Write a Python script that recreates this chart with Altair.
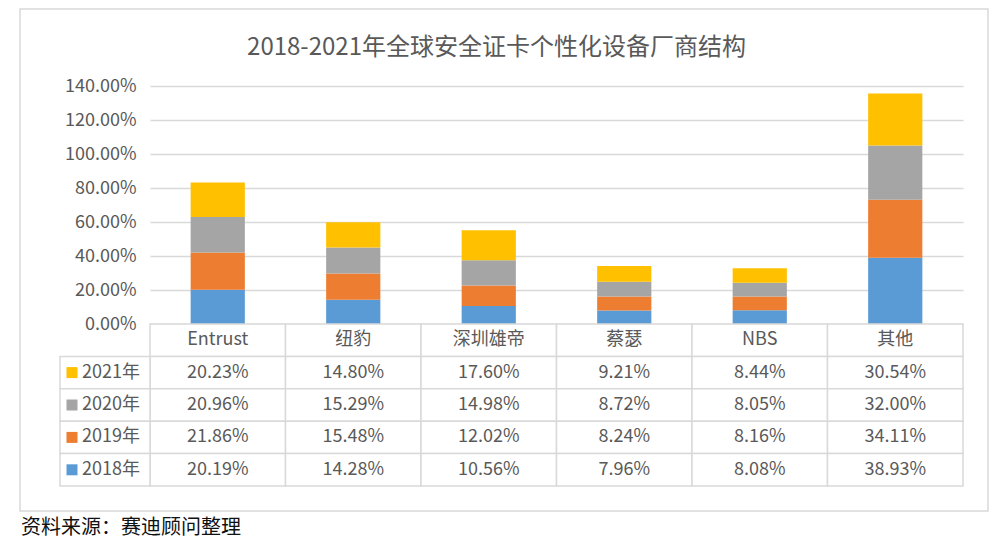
import altair as alt
import pandas as pd

FONT = "Noto Sans CJK SC"
TEXT_COLOR = "#595959"
LINE_COLOR = "#d9d9d9"

title_text = "2018-2021年全球安全证卡个性化设备厂商结构"
source_note = "资料来源：赛迪顾问整理"

companies = ["Entrust", "纽豹", "深圳雄帝", "蔡瑟", "NBS", "其他"]
years = ["2018年", "2019年", "2020年", "2021年"]
year_colors = ["#5b9bd5", "#ed7d31", "#a5a5a5", "#ffc000"]

v2018 = [20.19, 14.28, 10.56, 7.96, 8.08, 38.93]
v2019 = [21.86, 15.48, 12.02, 8.24, 8.16, 34.11]
v2020 = [20.96, 15.29, 14.98, 8.72, 8.05, 32.00]
v2021 = [20.23, 14.80, 17.60, 9.21, 8.44, 30.54]

tick_values = [0, 0.2, 0.4, 0.6, 0.8, 1.0, 1.2, 1.4]

series = {"2018年": v2018, "2019年": v2019, "2020年": v2020, "2021年": v2021}

bar_rows = []
for yi, y in enumerate(years):
    for c, v in zip(companies, series[y]):
        bar_rows.append({"company": c, "year": y, "yi": yi, "value": v / 100})
bar_df = pd.DataFrame(bar_rows)

table_rows = ["header", "2021年", "2020年", "2019年", "2018年"]
cell_rows = []
for c in companies:
    cell_rows.append({"company": c, "row": "header", "label": c})
for y in table_rows[1:]:
    for c, v in zip(companies, series[y]):
        cell_rows.append({"company": c, "row": y, "label": f"{v:.2f}%"})
cell_df = pd.DataFrame(cell_rows)

leg_df = pd.DataFrame({"row": table_rows[1:], "year": table_rows[1:]})
note_df = pd.DataFrame({"note": [source_note]})

color_scale = alt.Scale(domain=years, range=year_colors)

bars = alt.Chart(bar_df).mark_bar().encode(
    x=alt.X("company:N", sort=companies,
            scale=alt.Scale(domain=companies, paddingInner=0.6, paddingOuter=0.3),
            axis=None),
    y=alt.Y("value:Q", stack="zero",
            scale=alt.Scale(domain=[0, 1.4], nice=False),
            axis=alt.Axis(values=tick_values, format=".2%", title=None,
                          domain=False, ticks=False, labelPadding=14,
                          labelFontSize=18, labelColor=TEXT_COLOR, labelFont=FONT,
                          gridColor=LINE_COLOR, gridWidth=1.5)),
    color=alt.Color("year:N", scale=color_scale, legend=None),
    order=alt.Order("yi:Q", sort="ascending"),
).properties(
    width=813, height=238,
    title=alt.TitleParams(text=title_text, fontSize=24, color=TEXT_COLOR, font=FONT,
                          fontWeight="normal", anchor="middle", frame="group",
                          offset=-2, baseline="alphabetic", dx=-60),
)

X = alt.X("company:N", sort=companies,
          scale=alt.Scale(domain=companies, paddingInner=0, paddingOuter=0), axis=None)
Y = alt.Y("row:N", sort=table_rows,
          scale=alt.Scale(domain=table_rows, paddingInner=0, paddingOuter=0), axis=None)

border = alt.Chart(note_df).mark_rect(fillOpacity=0, stroke=LINE_COLOR, strokeWidth=1.5).encode(
    x=alt.value(-130), x2=alt.value(838), y=alt.value(-315), y2=alt.value(187))

grid_rect = alt.Chart(cell_df).mark_rect(fill="white", stroke=LINE_COLOR, strokeWidth=1.5).encode(x=X, y=Y)
grid_text = alt.Chart(cell_df).mark_text(font=FONT, fontSize=18, color=TEXT_COLOR).encode(
    x=X, y=Y, text="label:N")

leg_rect = alt.Chart(leg_df).mark_rect(fill="white", stroke=LINE_COLOR, strokeWidth=1.5).encode(
    x=alt.value(-90), x2=alt.value(0), y=Y)
leg_sq = alt.Chart(leg_df).mark_square(size=121, opacity=1).encode(
    x=alt.value(-78), y=Y, color=alt.Color("year:N", scale=color_scale, legend=None))
leg_text = alt.Chart(leg_df).mark_text(font=FONT, fontSize=18, color=TEXT_COLOR, align="left").encode(
    x=alt.value(-68), y=Y, text="year:N")

footer = alt.Chart(note_df).mark_text(font=FONT, fontSize=20, color="#111111", align="left",
                                      baseline="middle").encode(
    x=alt.value(-129), y=alt.value(204), text="note:N")

table = alt.layer(border, grid_rect, grid_text, leg_rect, leg_sq, leg_text, footer).properties(
    width=813, height=162)

chart = alt.vconcat(bars, table, spacing=0, bounds="flush").resolve_scale(
    x="independent", y="independent", color="independent"
).properties(
    padding={"left": 11, "top": 0, "right": 5, "bottom": 5},
).configure_view(strokeWidth=0)

chart.save("out.html", embed_options={"renderer": "svg", "actions": False})
